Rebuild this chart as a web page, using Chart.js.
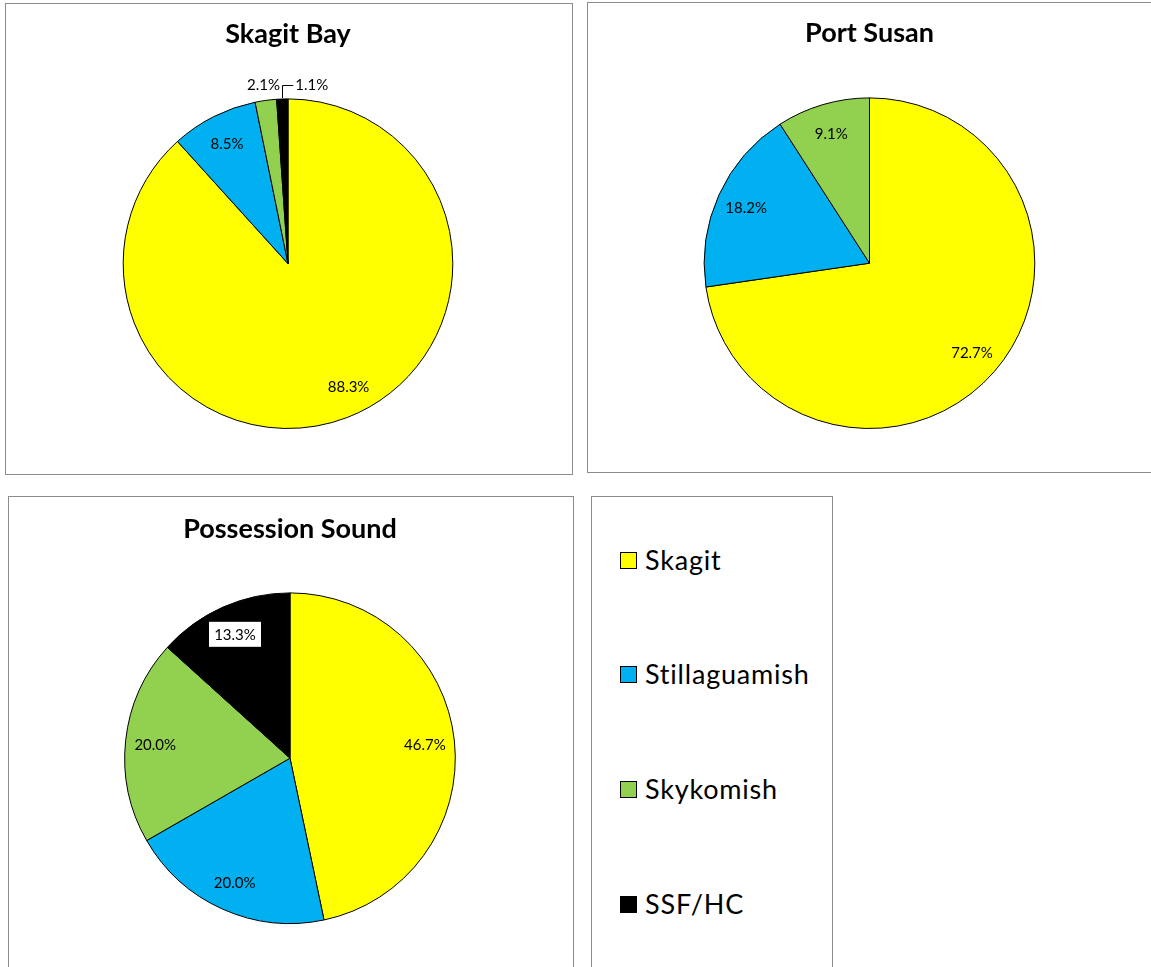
<!DOCTYPE html>
<html>
<head>
<meta charset="utf-8">
<script src="https://cdn.jsdelivr.net/npm/chart.js@4/dist/chart.umd.min.js"></script>
<style>
  body { margin: 0; background: #fff; width: 1151px; height: 967px; overflow: hidden; position: relative; font-family: Lato, sans-serif; }
  .panel { position: absolute; border: 1px solid #8c8c8c; box-sizing: border-box; background: #fff; }
  .panel canvas { display: block; }
  .item { position: absolute; left: 28px; height: 30px; line-height: 30px; font-size: 27px; letter-spacing: 0.8px; color: #000; white-space: nowrap; }
  .swatch { display: inline-block; width: 15px; height: 15px; border: 1px solid #000; margin-right: 8px; vertical-align: 1px; }
</style>
</head>
<body>

<div class="panel" style="left:5px; top:3px; width:568px; height:472px;"><canvas id="skagitBay"></canvas></div>
<div class="panel" style="left:587px; top:2px; width:566px; height:471px;"><canvas id="portSusan"></canvas></div>
<div class="panel" style="left:8px; top:496px; width:566px; height:480px;"><canvas id="possessionSound"></canvas></div>
<div class="panel" id="legend" style="left:591px; top:496px; width:242px; height:480px;"></div>

<script>
const sources = ["Skagit", "Stillaguamish", "Skykomish", "SSF/HC"];
const sourceColors = ["#FFFF00", "#00B0F0", "#92D050", "#000000"];

const skagitBay = [88.3, 8.5, 2.1, 1.1];
const portSusan = [72.7, 18.2, 9.1, 0];
const possessionSound = [46.7, 20.0, 20.0, 13.3];

// percentage labels: inside the slice, small slices go outside the rim
const pctLabels = {
  id: "pctLabels",
  afterDatasetsDraw(chart, args, opts) {
    const ctx = chart.ctx;
    const ds = chart.data.datasets[0];
    const arcs = chart.getDatasetMeta(0).data;
    ctx.save();
    ctx.font = "15px Lato";
    ctx.textAlign = "center";
    ctx.textBaseline = "middle";
    arcs.forEach((arc, i) => {
      const v = ds.data[i];
      if (!v) return;
      const mid = (arc.startAngle + arc.endAngle) / 2;
      const r = arc.outerRadius;
      const f = v < 5 ? 1.1 : 0.82;
      let x = arc.x + Math.cos(mid) * r * f;
      let y = arc.y + Math.sin(mid) * r * f;
      const text = v.toFixed(1) + "%";
      const w = ctx.measureText(text).width;
      const shift = (opts.shift || {})[i];
      if (shift) {
        x += shift[0];
        y += shift[1];
      }
      const nudge = (opts.nudge || {})[i];
      if (nudge) {
        const ex = arc.x + Math.cos(mid) * r;
        const ey = arc.y + Math.sin(mid) * r;
        x += nudge[0];
        y += nudge[1];
        ctx.strokeStyle = "#000";
        ctx.lineWidth = 1;
        ctx.beginPath();
        ctx.moveTo(Math.round(ex) + 0.5, ey - 1);
        ctx.lineTo(Math.round(ex) + 0.5, Math.round(y) + 0.5);
        ctx.lineTo(x - w / 2 - 2, Math.round(y) + 0.5);
        ctx.stroke();
      }
      if ((opts.boxed || []).includes(i)) {
        ctx.fillStyle = "#fff";
        ctx.fillRect(x - 26, y - 12.5, 52, 25);
      }
      ctx.fillStyle = "#000";
      ctx.fillText(text, x, y + 1);
    });
    ctx.restore();
  }
};

function pie(id, title, values, pad, labelOpts) {
  const el = document.getElementById(id);
  const box = el.parentNode;
  el.width = box.clientWidth;
  el.height = box.clientHeight;
  new Chart(el, {
    type: "pie",
    data: {
      labels: sources,
      datasets: [{
        data: values,
        backgroundColor: sourceColors,
        borderColor: "#000",
        borderWidth: 1
      }]
    },
    options: {
      responsive: false,
      animation: false,
      layout: { padding: pad.layout },
      plugins: {
        legend: { display: false },
        tooltip: { enabled: false },
        title: {
          display: true,
          text: title,
          color: "#000",
          font: { family: "Lato", size: 27, weight: "bold" },
          padding: { top: pad.top, bottom: pad.bottom }
        },
        pctLabels: labelOpts
      }
    },
    plugins: [pctLabels]
  });
}

pie("skagitBay", "Skagit Bay", skagitBay,
  { top: 14, bottom: 48, layout: { bottom: 45, right: 2 } },
  { nudge: { 3: [30, 2] }, shift: { 0: [12, -4] } });
pie("portSusan", "Port Susan", portSusan,
  { top: 14, bottom: 48, layout: { bottom: 43, right: 1 } },
  {});
pie("possessionSound", "Possession Sound", possessionSound,
  { top: 16, bottom: 47, layout: { bottom: 51, right: 2 } },
  { boxed: [3] });

// legend box
const legend = document.getElementById("legend");
const legendTops = [48, 162, 277, 392];
sources.forEach((s, i) => {
  const d = document.createElement("div");
  d.className = "item";
  d.style.top = legendTops[i] + "px";
  d.innerHTML = '<span class="swatch" style="background:' + sourceColors[i] + '"></span>' + s;
  legend.appendChild(d);
});
</script>
</body>
</html>
